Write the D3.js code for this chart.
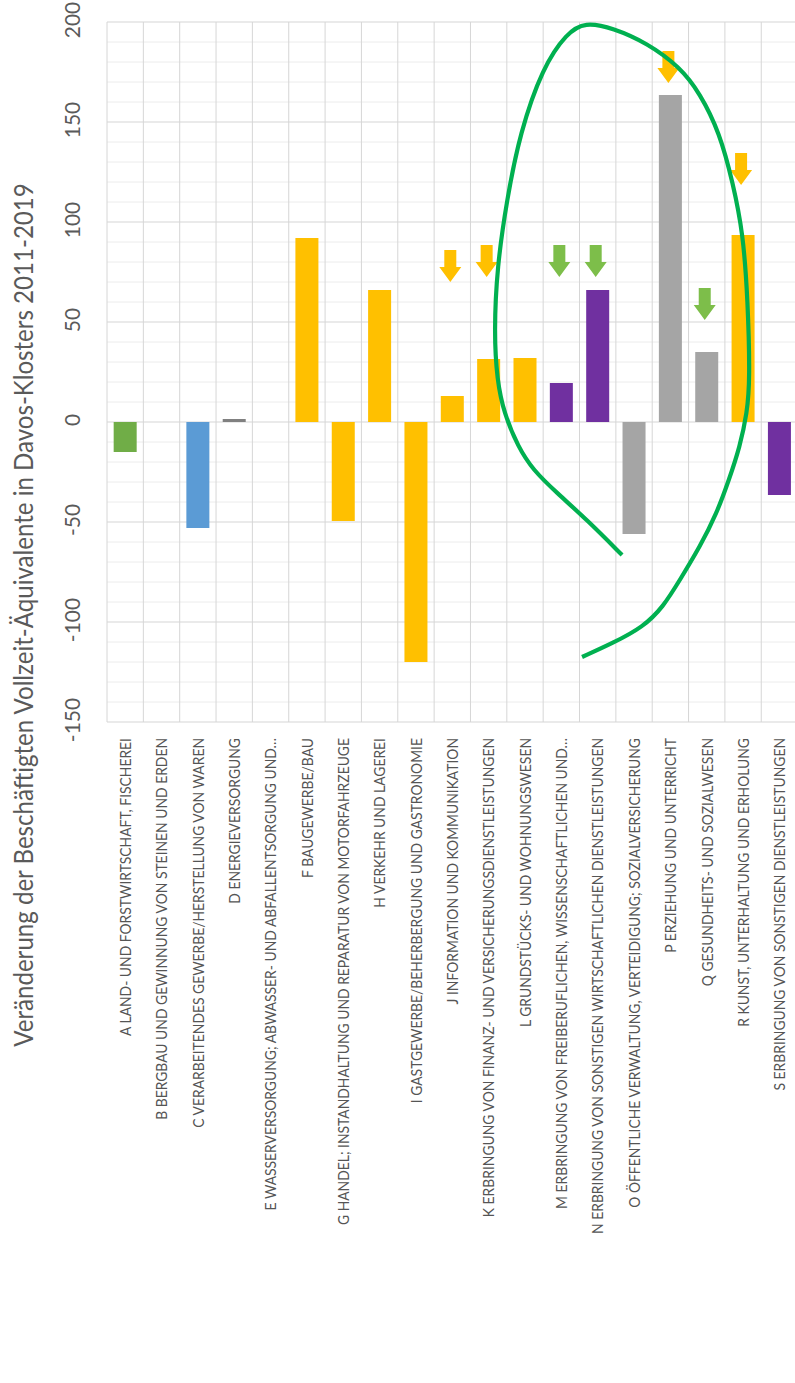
<!DOCTYPE html>
<html>
<head>
<meta charset="utf-8">
<script src="https://cdn.jsdelivr.net/npm/d3@7"></script>
<style>
  html, body { margin: 0; padding: 0; background: #fff; }
  svg { display: block; }
  text { font-family: Lato, "Open Sans", sans-serif; }
</style>
</head>
<body>
<svg id="chart" width="795" height="1383"></svg>
<script>
// ---------------- data ----------------
const categories = [
  "A LAND- UND FORSTWIRTSCHAFT, FISCHEREI",
  "B BERGBAU UND GEWINNUNG VON STEINEN UND ERDEN",
  "C VERARBEITENDES GEWERBE/HERSTELLUNG VON WAREN",
  "D ENERGIEVERSORGUNG",
  "E WASSERVERSORGUNG; ABWASSER- UND ABFALLENTSORGUNG UND…",
  "F BAUGEWERBE/BAU",
  "G HANDEL; INSTANDHALTUNG UND REPARATUR VON MOTORFAHRZEUGE",
  "H VERKEHR UND LAGEREI",
  "I GASTGEWERBE/BEHERBERGUNG UND GASTRONOMIE",
  "J INFORMATION UND KOMMUNIKATION",
  "K ERBRINGUNG VON FINANZ- UND VERSICHERUNGSDIENSTLEISTUNGEN",
  "L GRUNDSTÜCKS- UND WOHNUNGSWESEN",
  "M ERBRINGUNG VON FREIBERUFLICHEN, WISSENSCHAFTLICHEN UND…",
  "N ERBRINGUNG VON SONSTIGEN WIRTSCHAFTLICHEN DIENSTLEISTUNGEN",
  "O ÖFFENTLICHE VERWALTUNG, VERTEIDIGUNG; SOZIALVERSICHERUNG",
  "P ERZIEHUNG UND UNTERRICHT",
  "Q GESUNDHEITS- UND SOZIALWESEN",
  "R KUNST, UNTERHALTUNG UND ERHOLUNG",
  "S ERBRINGUNG VON SONSTIGEN DIENSTLEISTUNGEN"
];
const values = [-15, 0, -53, 1.5, 0, 92, -49.5, 66, -120, 13, 31.5, 32, 19.5, 66, -56, 163.5, 35, 93.5, -36.5];
const barColors = ["#70AD47", "#A5A5A5", "#5B9BD5", "#808080", "#A5A5A5", "#FFC000", "#FFC000", "#FFC000", "#FFC000",
                   "#FFC000", "#FFC000", "#FFC000", "#7030A0", "#7030A0", "#A5A5A5", "#A5A5A5", "#A5A5A5", "#FFC000", "#7030A0"];
const yTicks = [-150, -100, -50, 0, 50, 100, 150, 200];
const yMinorStep = 10;
const yTitle = "Veränderung der Beschäftigten Vollzeit-Äquivalente in Davos-Klosters 2011-2019";

// annotation arrows (category index, tip value)
const arrowIdx = [9, 10, 12, 13, 15, 16, 17];
const arrowTip = [70, 72.5, 72.5, 72.5, 169.5, 51, 118.5];
const arrowColor = ["#FFC000", "#FFC000", "#7DBE4A", "#7DBE4A", "#FFC000", "#7DBE4A", "#FFC000"];

// hand-drawn green loop, in (category position, value) units
const loopCat = [14.17, 13.21, 12.38, 11.72, 11.31, 10.92, 10.73, 10.65, 10.73, 11.00, 11.36, 11.99, 12.65, 13.15,
                 13.92, 14.86, 15.76, 16.31, 16.86, 17.22, 17.50, 17.63, 17.69, 17.61, 17.41, 17.11, 16.78, 16.31,
                 15.76, 15.30, 14.75, 13.92, 13.07];
const loopVal = [-66.5, -49, -35.5, -24, -12.5, 4.5, 21, 44.5, 77.5, 111, 144.5, 177.5, 194.5, 200,
                 197, 189.5, 177.5, 164.5, 144.5, 119.5, 94.5, 61, 21, 4.5, -12.5, -29, -45.5, -62.5,
                 -79, -92.5, -102.5, -110.5, -117.5];

// ---------------- layout ----------------
const svg = d3.select("#chart");
const plotLeft = 107, plotRight = 797.6, plotTop = 22, plotBottom = 722;
const y = d3.scaleLinear().domain([-150, 200]).range([plotBottom, plotTop]);
const x = d3.scaleBand().domain(categories).range([plotLeft, plotRight]).paddingInner(0.367).paddingOuter(0.1835);
const xPos = d3.scaleLinear().domain([0, categories.length]).range([plotLeft, plotRight]);

// minor gridlines
const minorVals = d3.range(-150, 200 + 0.001, yMinorStep).filter(v => v % 50 !== 0);
svg.append("g").selectAll("line").data(minorVals).join("line")
  .attr("x1", plotLeft).attr("x2", plotRight)
  .attr("y1", d => y(d)).attr("y2", d => y(d))
  .attr("stroke", "#ececec").attr("stroke-width", 1);

// vertical gridlines
svg.append("g").selectAll("line").data(d3.range(0, categories.length + 1)).join("line")
  .attr("x1", d => xPos(d)).attr("x2", d => xPos(d))
  .attr("y1", plotTop).attr("y2", plotBottom)
  .attr("stroke", "#d6d6d6").attr("stroke-width", 1);

// major gridlines
svg.append("g").selectAll("line").data(yTicks).join("line")
  .attr("x1", plotLeft).attr("x2", plotRight)
  .attr("y1", d => y(d)).attr("y2", d => y(d))
  .attr("stroke", "#d6d6d6").attr("stroke-width", 1.2);

// y tick labels (rotated)
svg.append("g").selectAll("text").data(yTicks).join("text")
  .attr("transform", d => `translate(80,${y(d) - 2}) rotate(-90)`)
  .attr("text-anchor", "middle")
  .attr("font-size", 21)
  .attr("fill", "#5a5a5a")
  .text(d => d);

// bars
svg.append("g").selectAll("rect").data(values).join("rect")
  .attr("x", (d, i) => x(categories[i]))
  .attr("width", x.bandwidth())
  .attr("y", d => y(Math.max(0, d)))
  .attr("height", d => Math.abs(y(d) - y(0)))
  .attr("fill", (d, i) => barColors[i]);

// category labels (rotated, reading bottom to top)
const labelTop = 738;
const labels = svg.append("g").selectAll("text").data(categories).join("text")
  .attr("text-anchor", "end")
  .attr("font-size", 16)
  .attr("fill", "#555555")
  .attr("dy", "0.36em")
  .text(d => d);
// uniform squeeze along the text so the O label spans the measured height
const refLen = labels.filter((d, i) => i === 14).node().getComputedTextLength();
const squeeze = 470 / refLen;
labels.attr("transform", d => `translate(${x(d) + x.bandwidth() / 2},${labelTop}) rotate(-90) scale(${squeeze},1)`);

// y axis title
const title = svg.append("text")
  .attr("text-anchor", "middle")
  .attr("font-size", 26)
  .attr("fill", "#5a5a5a")
  .text(yTitle);
const tLen = title.node().getComputedTextLength();
const tSqueeze = 864 / tLen;
title.attr("transform", `translate(33,615) rotate(-90) scale(${tSqueeze},1)`);

// arrows
const arrowPath = "M-6,-32 L6,-32 L6,-15 L11,-15 L0,0 L-11,-15 L-6,-15 Z";
svg.append("g").selectAll("path").data(arrowIdx).join("path")
  .attr("d", arrowPath)
  .attr("transform", (d, i) => `translate(${xPos(d + 0.5) - 2},${y(arrowTip[i])})`)
  .attr("fill", (d, i) => arrowColor[i]);

// green loop
const loopLine = d3.line()
  .x((d, i) => xPos(loopCat[i]))
  .y((d, i) => y(loopVal[i]))
  .curve(d3.curveBasis);
svg.append("path")
  .attr("d", loopLine(loopCat))
  .attr("fill", "none")
  .attr("stroke", "#00B050")
  .attr("stroke-width", 4.2)
  .attr("stroke-linecap", "butt");
</script>
</body>
</html>
